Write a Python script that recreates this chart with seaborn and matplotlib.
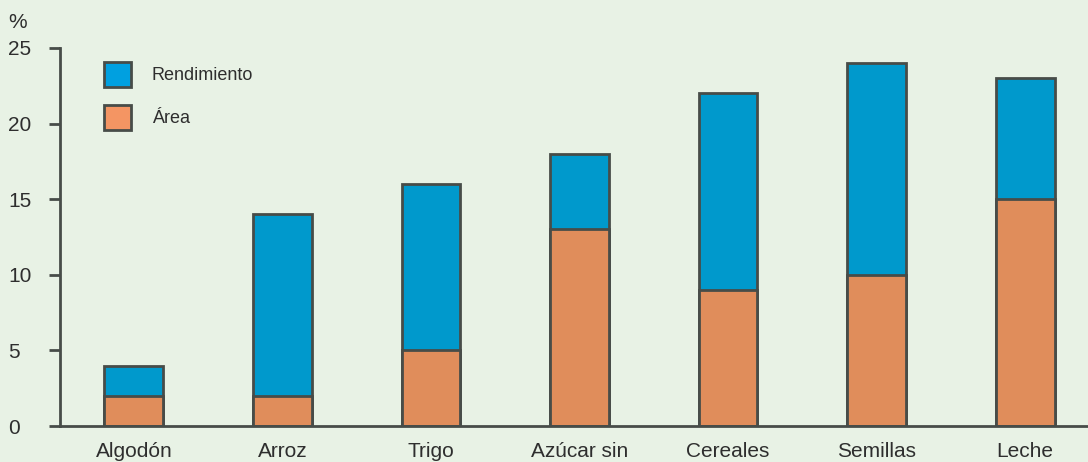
import matplotlib
matplotlib.use("Agg")
import matplotlib.pyplot as plt
import seaborn as sns
import pandas as pd
from matplotlib.patches import Patch

# data
categorias = ["Algodón", "Arroz", "Trigo", "Azúcar sin", "Cereales", "Semillas", "Leche"]
area = [2, 2, 5, 13, 9, 10, 15]
total = [4, 14, 16, 18, 22, 24, 23]   # area + rendimiento (top of the stack)
yticks = [0, 5, 10, 15, 20, 25]

bg = "#e8f2e5"
azul = "#0099cc"
naranja = "#e08d5b"
borde = "#474c48"
texto = "#2e2e2e"

sns.set_style("white")
plt.rcParams["font.family"] = ["Liberation Sans", "DejaVu Sans"]

df = pd.DataFrame({"cat": categorias, "area": area, "total": total})

fig = plt.figure(figsize=(10.88, 4.62), dpi=100, facecolor=bg)
ax = fig.add_axes([60 / 1088, 1 - 426 / 462, 1 - 60 / 1088, (426 - 48) / 462])
ax.set_facecolor(bg)

sns.barplot(data=df, x="cat", y="total", color=azul, saturation=1, width=0.397,
            edgecolor=borde, linewidth=2, ax=ax)
sns.barplot(data=df, x="cat", y="area", color=naranja, saturation=1, width=0.397,
            edgecolor=borde, linewidth=2, ax=ax)

ax.set_xlim(-0.498, 6.424)
ax.set_ylim(0, 25)
ax.set_yticks(yticks)
ax.set_xlabel("")
ax.set_ylabel("")

for s in ["top", "right"]:
    ax.spines[s].set_visible(False)
for s in ["left", "bottom"]:
    ax.spines[s].set_color(borde)
    ax.spines[s].set_linewidth(2)

ax.tick_params(axis="y", left=True, length=8, width=2, color=borde, direction="out",
               labelsize=15, labelcolor=texto, pad=29.5)
for lab in ax.get_yticklabels():
    lab.set_ha("left")
ax.tick_params(axis="x", bottom=False, length=0, labelsize=15, labelcolor=texto, pad=11.5)

fig.text(8 / 1088, 1 - 22 / 462, "%", fontsize=15, color=texto, va="center", ha="left")

# legend swatches are a touch lighter than the bars in the original
handles = [Patch(facecolor="#00a0e0", edgecolor=borde, linewidth=2, label="Rendimiento"),
           Patch(facecolor="#f49563", edgecolor=borde, linewidth=2, label="Área")]
ax.legend(handles=handles, loc="upper left",
          bbox_to_anchor=(104 / 1088, 1 - 62 / 462), bbox_transform=fig.transFigure,
          frameon=False, fontsize=13, handlelength=1.5, handleheight=1.75,
          handletextpad=1.15, labelspacing=1.0, borderpad=0, borderaxespad=0,
          labelcolor=texto)

fig.savefig("out.png", dpi=100, facecolor=bg)
